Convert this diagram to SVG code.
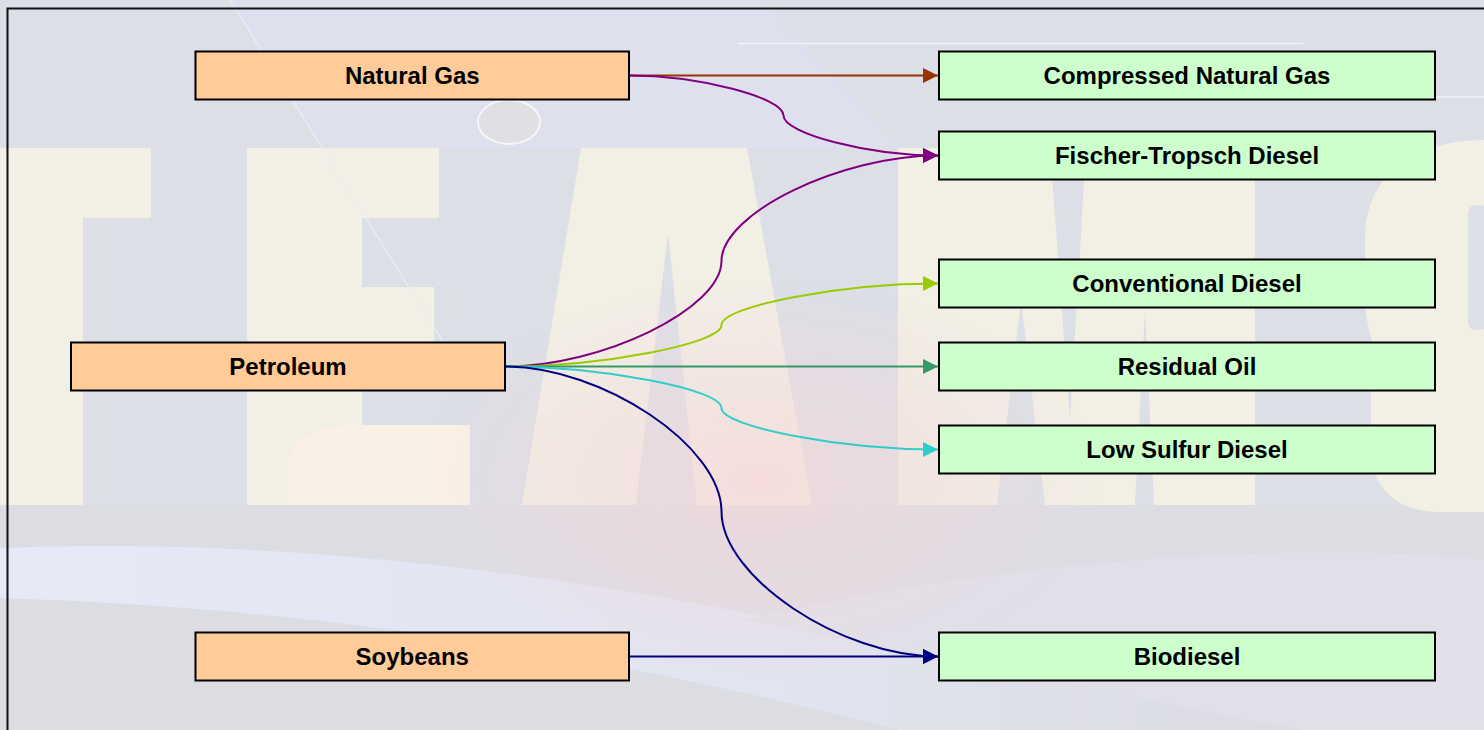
<svg xmlns="http://www.w3.org/2000/svg" width="1484" height="730" viewBox="0 0 1484 730">
  <style>
    .src { fill: #ffcc99; stroke: #000; stroke-width: 2; }
    .dst { fill: #ccffcc; stroke: #000; stroke-width: 2; }
    .lbl { font-family: "Liberation Sans", Arial, sans-serif; font-weight: bold; font-size: 24px; fill: #000; text-anchor: middle; }
    .edge { fill: none; stroke-width: 2; }
    .letter { fill: #f2efe5; }
  </style>
  <defs>
    <marker id="arBrown" viewBox="0 0 15 15" refX="15" refY="7.5" markerWidth="15" markerHeight="15" markerUnits="userSpaceOnUse" orient="auto"><path d="M0,0 L15,7.5 L0,15 Z" fill="#993300"/></marker>
    <marker id="arPurple" viewBox="0 0 15 15" refX="15" refY="7.5" markerWidth="15" markerHeight="15" markerUnits="userSpaceOnUse" orient="auto"><path d="M0,0 L15,7.5 L0,15 Z" fill="#800080"/></marker>
    <marker id="arLime" viewBox="0 0 15 15" refX="15" refY="7.5" markerWidth="15" markerHeight="15" markerUnits="userSpaceOnUse" orient="auto"><path d="M0,0 L15,7.5 L0,15 Z" fill="#99cc00"/></marker>
    <marker id="arSea" viewBox="0 0 15 15" refX="15" refY="7.5" markerWidth="15" markerHeight="15" markerUnits="userSpaceOnUse" orient="auto"><path d="M0,0 L15,7.5 L0,15 Z" fill="#339966"/></marker>
    <marker id="arCyan" viewBox="0 0 15 15" refX="15" refY="7.5" markerWidth="15" markerHeight="15" markerUnits="userSpaceOnUse" orient="auto"><path d="M0,0 L15,7.5 L0,15 Z" fill="#33cccc"/></marker>
    <marker id="arNavy" viewBox="0 0 15 15" refX="15" refY="7.5" markerWidth="15" markerHeight="15" markerUnits="userSpaceOnUse" orient="auto"><path d="M0,0 L15,7.5 L0,15 Z" fill="#000080"/></marker>
    <radialGradient id="pinkGlow" cx="0.5" cy="0.5" r="0.5">
      <stop offset="0" stop-color="#f6d6d6" stop-opacity="0.7"/>
      <stop offset="0.6" stop-color="#f2d8dc" stop-opacity="0.35"/>
      <stop offset="1" stop-color="#f2d8dc" stop-opacity="0"/>
    </radialGradient>
    <linearGradient id="swoosh" x1="0" y1="0" x2="1" y2="0">
      <stop offset="0" stop-color="#e6e9f6"/>
      <stop offset="0.6" stop-color="#e2e4f0"/>
      <stop offset="1" stop-color="#e0e1eb" stop-opacity="0"/>
    </linearGradient>
  </defs>

  <g id="background">
    <rect x="0" y="0" width="1484" height="730" fill="#dcdfe6"/>
    <polygon points="230,0 760,0 900,148 322,148" fill="#dfe0ee"/>
    <rect x="0" y="505" width="1484" height="225" fill="#dcdde3"/>
    <path d="M0,548 C200,540 450,555 742,612 C950,655 1150,700 1300,730 L900,730 C700,680 400,610 0,598 Z" fill="url(#swoosh)"/>
    <path d="M742,620 C950,660 1150,700 1300,730 L1484,730 L1484,560 C1300,540 1000,560 742,620 Z" fill="#e0e0e9"/>
    <!-- T -->
    <polygon class="letter" points="0,148 151,148 151,218 83,218 83,505 0,505"/>
    <!-- E -->
    <polygon class="letter" points="247,148 439,148 439,218 362,218 362,287 434,287 434,365 362,365 362,505 247,505"/>
    <path d="M288,505 L288,470 Q288,425 360,425 L470,425 L470,505 Z" fill="#faf1e6"/>
    <!-- A -->
    <polygon class="letter" points="581,148 747,148 812,505 697,505 668,233 636,505 522,505"/>
    <!-- M -->
    <polygon class="letter" points="898,148 1050,148 1070,420 1086,148 1255,148 1255,505 1154,505 1145,310 1135,505 1045,505 1021,300 997,505 898,505"/>
    <!-- S -->
    <path class="letter" d="M1484,140 C1420,140 1365,170 1365,240 L1365,300 C1365,330 1380,350 1371,370 L1371,450 C1371,490 1400,512 1440,512 L1484,512 Z"/>
    <rect x="1468" y="205" width="20" height="125" rx="8" fill="#dcdfe6"/>
    <ellipse cx="760" cy="480" rx="340" ry="200" fill="url(#pinkGlow)"/>
    <line x1="230" y1="0" x2="445" y2="345" stroke="#eef0f6" stroke-width="1.5" opacity="0.7"/>
    <line x1="738" y1="43.5" x2="1303" y2="43.5" stroke="#f2f3f8" stroke-width="1.5"/>
    <line x1="1436" y1="97" x2="1484" y2="97" stroke="#f2f3f8" stroke-width="1.5"/>
    <ellipse cx="509" cy="122" rx="31" ry="22" fill="#e0e0e4" stroke="#f6f6f8" stroke-width="2"/>
    <rect x="7.5" y="8.5" width="1490" height="740" fill="none" stroke="#111" stroke-width="2"/>
  </g>

  <g id="connectors">
    <path class="edge" stroke="#993300" marker-end="url(#arBrown)" d="M629,75.5 H938"/>
    <path class="edge" stroke="#800080" marker-end="url(#arPurple)" d="M629,75.5 C698.5,75.5 783.5,97.5 783.5,115.5 C783.5,133.5 868.5,155.5 938,155.5"/>
    <path class="edge" stroke="#800080" marker-end="url(#arPurple)" d="M505,366.5 C602.4,366.5 721.5,308.5 721.5,261 C721.5,213.5 840.6,155.5 938,155.5"/>
    <path class="edge" stroke="#99cc00" marker-end="url(#arLime)" d="M505,366.5 C602.4,366.5 721.5,343.7 721.5,325 C721.5,306.3 840.6,283.5 938,283.5"/>
    <path class="edge" stroke="#339966" marker-end="url(#arSea)" d="M505,366.5 H938"/>
    <path class="edge" stroke="#33cccc" marker-end="url(#arCyan)" d="M505,366.5 C602.4,366.5 721.5,389.3 721.5,408 C721.5,426.7 840.6,449.5 938,449.5"/>
    <path class="edge" stroke="#000080" marker-end="url(#arNavy)" d="M505,366.5 C602.4,366.5 721.5,446.25 721.5,511.5 C721.5,576.75 840.6,656.5 938,656.5"/>
    <path class="edge" stroke="#000080" marker-end="url(#arNavy)" d="M629,656.5 H938"/>
  </g>

  <g id="node-natural-gas">
    <rect class="src" x="195.5" y="51.5" width="433.5" height="48"/>
    <text class="lbl" x="412.25" y="84.1">Natural Gas</text>
  </g>
  <g id="node-petroleum">
    <rect class="src" x="71" y="342.5" width="434" height="48"/>
    <text class="lbl" x="288" y="375.1">Petroleum</text>
  </g>
  <g id="node-soybeans">
    <rect class="src" x="195.5" y="632.5" width="433.5" height="48"/>
    <text class="lbl" x="412.25" y="665.1">Soybeans</text>
  </g>
  <g id="node-cng">
    <rect class="dst" x="939" y="51.5" width="496" height="48"/>
    <text class="lbl" x="1187" y="84.1">Compressed Natural Gas</text>
  </g>
  <g id="node-ftd">
    <rect class="dst" x="939" y="131.5" width="496" height="48"/>
    <text class="lbl" x="1187" y="164.1">Fischer-Tropsch Diesel</text>
  </g>
  <g id="node-conventional-diesel">
    <rect class="dst" x="939" y="259.5" width="496" height="48"/>
    <text class="lbl" x="1187" y="292.1">Conventional Diesel</text>
  </g>
  <g id="node-residual-oil">
    <rect class="dst" x="939" y="342.5" width="496" height="48"/>
    <text class="lbl" x="1187" y="375.1">Residual Oil</text>
  </g>
  <g id="node-low-sulfur-diesel">
    <rect class="dst" x="939" y="425.5" width="496" height="48"/>
    <text class="lbl" x="1187" y="458.1">Low Sulfur Diesel</text>
  </g>
  <g id="node-biodiesel">
    <rect class="dst" x="939" y="632.5" width="496" height="48"/>
    <text class="lbl" x="1187" y="665.1">Biodiesel</text>
  </g>
</svg>
